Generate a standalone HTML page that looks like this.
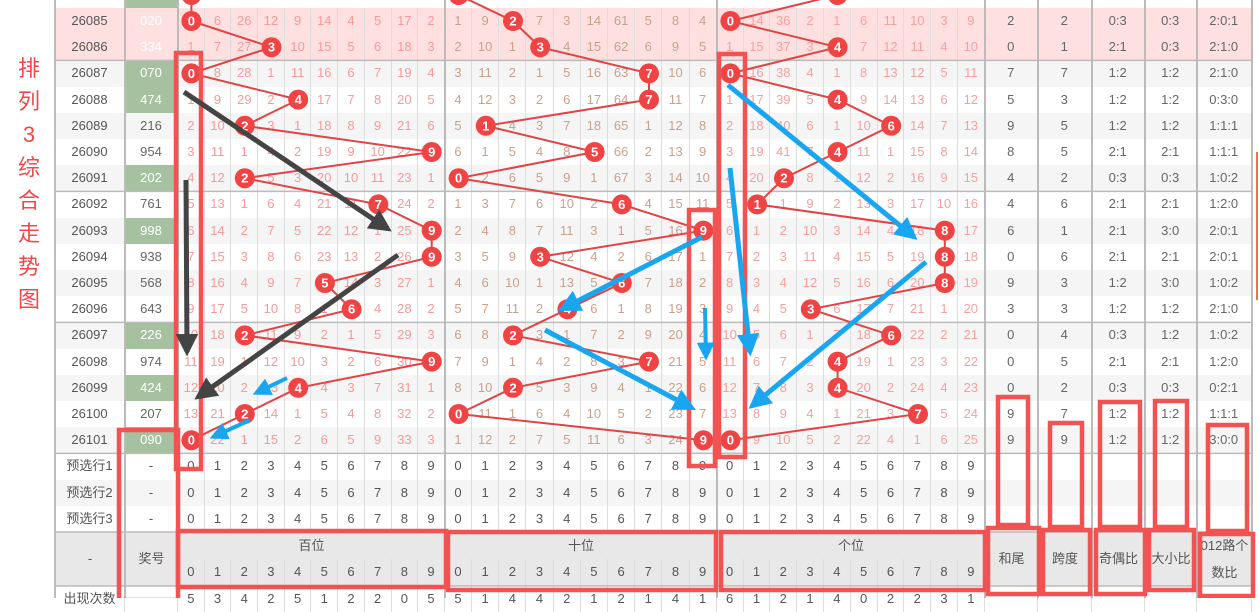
<!DOCTYPE html>
<html><head><meta charset="utf-8">
<style>
*{margin:0;padding:0;box-sizing:border-box}
body{width:1259px;height:598px;overflow:hidden;background:#fff;font-family:"Liberation Sans","Noto Sans CJK SC",sans-serif;position:relative}
.r{position:absolute;left:55px;height:26.2px;display:grid;grid-template-columns:70px 53px repeat(10,26.7px) repeat(10,27.2px) repeat(10,26.8px) 53px 54px 53px 52px 55px;font-size:13px;line-height:26.2px;text-align:center;color:#666}
.r span{border-right:1px solid #ddd;overflow:hidden;white-space:nowrap}
.r span:nth-child(1){color:#555}
.r span:nth-child(n+3):nth-child(-n+12){color:#f39a9a}
.r span:nth-child(n+13):nth-child(-n+22){color:#c9a08e}
.r span:nth-child(n+23):nth-child(-n+32){color:#f5a0a0}
.g{background:#f5f5f5}.w{background:#fff}.p{background:#ffe0e0}
.p span:nth-child(2){color:#fff}
.r span.n{background:#a6c19f;color:#fff}
.pre span:nth-child(n+2){color:#555!important}
.hr span:nth-child(-n+2){border-right:none}
.hd{position:absolute;background:#e8e8e8;color:#555;font-size:13px;text-align:center}
.vt{position:absolute;left:16px;top:52px;width:26px;color:#f04848;font-size:22px;line-height:33px;text-align:center}
</style></head><body>
<div class="vt">排<br>列<br>3<br>综<br>合<br>走<br>势<br>图</div>

<div class="r w" style="top:-18.2px"><span></span><span class="n"></span></div>
<div class="r p" style="top:8px"><span>26085</span><span>020</span><span></span><span>6</span><span>26</span><span>12</span><span>9</span><span>14</span><span>4</span><span>5</span><span>17</span><span>2</span><span>1</span><span>9</span><span></span><span>7</span><span>3</span><span>14</span><span>61</span><span>5</span><span>8</span><span>4</span><span></span><span>14</span><span>36</span><span>2</span><span>1</span><span>6</span><span>11</span><span>10</span><span>3</span><span>9</span><span>2</span><span>2</span><span>0:3</span><span>0:3</span><span>2:0:1</span></div>
<div class="r p" style="top:34.2px"><span>26086</span><span>334</span><span>1</span><span>7</span><span>27</span><span></span><span>10</span><span>15</span><span>5</span><span>6</span><span>18</span><span>3</span><span>2</span><span>10</span><span>1</span><span></span><span>4</span><span>15</span><span>62</span><span>6</span><span>9</span><span>5</span><span>1</span><span>15</span><span>37</span><span>3</span><span></span><span>7</span><span>12</span><span>11</span><span>4</span><span>10</span><span>0</span><span>1</span><span>2:1</span><span>0:3</span><span>2:1:0</span></div>
<div class="r g" style="top:60.4px"><span>26087</span><span class="n">070</span><span></span><span>8</span><span>28</span><span>1</span><span>11</span><span>16</span><span>6</span><span>7</span><span>19</span><span>4</span><span>3</span><span>11</span><span>2</span><span>1</span><span>5</span><span>16</span><span>63</span><span></span><span>10</span><span>6</span><span></span><span>16</span><span>38</span><span>4</span><span>1</span><span>8</span><span>13</span><span>12</span><span>5</span><span>11</span><span>7</span><span>7</span><span>1:2</span><span>1:2</span><span>2:1:0</span></div>
<div class="r w" style="top:86.6px"><span>26088</span><span class="n">474</span><span>1</span><span>9</span><span>29</span><span>2</span><span></span><span>17</span><span>7</span><span>8</span><span>20</span><span>5</span><span>4</span><span>12</span><span>3</span><span>2</span><span>6</span><span>17</span><span>64</span><span></span><span>11</span><span>7</span><span>1</span><span>17</span><span>39</span><span>5</span><span></span><span>9</span><span>14</span><span>13</span><span>6</span><span>12</span><span>5</span><span>3</span><span>1:2</span><span>1:2</span><span>0:3:0</span></div>
<div class="r g" style="top:112.8px"><span>26089</span><span>216</span><span>2</span><span>10</span><span></span><span>3</span><span>1</span><span>18</span><span>8</span><span>9</span><span>21</span><span>6</span><span>5</span><span></span><span>4</span><span>3</span><span>7</span><span>18</span><span>65</span><span>1</span><span>12</span><span>8</span><span>2</span><span>18</span><span>40</span><span>6</span><span>1</span><span>10</span><span></span><span>14</span><span>7</span><span>13</span><span>9</span><span>5</span><span>1:2</span><span>1:2</span><span>1:1:1</span></div>
<div class="r w" style="top:139px"><span>26090</span><span>954</span><span>3</span><span>11</span><span>1</span><span>4</span><span>2</span><span>19</span><span>9</span><span>10</span><span>22</span><span></span><span>6</span><span>1</span><span>5</span><span>4</span><span>8</span><span></span><span>66</span><span>2</span><span>13</span><span>9</span><span>3</span><span>19</span><span>41</span><span>7</span><span></span><span>11</span><span>1</span><span>15</span><span>8</span><span>14</span><span>8</span><span>5</span><span>2:1</span><span>2:1</span><span>1:1:1</span></div>
<div class="r g" style="top:165.2px"><span>26091</span><span class="n">202</span><span>4</span><span>12</span><span></span><span>5</span><span>3</span><span>20</span><span>10</span><span>11</span><span>23</span><span>1</span><span></span><span>2</span><span>6</span><span>5</span><span>9</span><span>1</span><span>67</span><span>3</span><span>14</span><span>10</span><span>4</span><span>20</span><span></span><span>8</span><span>1</span><span>12</span><span>2</span><span>16</span><span>9</span><span>15</span><span>4</span><span>2</span><span>0:3</span><span>0:3</span><span>1:0:2</span></div>
<div class="r w" style="top:191.4px"><span>26092</span><span>761</span><span>5</span><span>13</span><span>1</span><span>6</span><span>4</span><span>21</span><span>11</span><span></span><span>24</span><span>2</span><span>1</span><span>3</span><span>7</span><span>6</span><span>10</span><span>2</span><span></span><span>4</span><span>15</span><span>11</span><span>5</span><span></span><span>1</span><span>9</span><span>2</span><span>13</span><span>3</span><span>17</span><span>10</span><span>16</span><span>4</span><span>6</span><span>2:1</span><span>2:1</span><span>1:2:0</span></div>
<div class="r g" style="top:217.6px"><span>26093</span><span class="n">998</span><span>6</span><span>14</span><span>2</span><span>7</span><span>5</span><span>22</span><span>12</span><span>1</span><span>25</span><span></span><span>2</span><span>4</span><span>8</span><span>7</span><span>11</span><span>3</span><span>1</span><span>5</span><span>16</span><span></span><span>6</span><span>1</span><span>2</span><span>10</span><span>3</span><span>14</span><span>4</span><span>18</span><span></span><span>17</span><span>6</span><span>1</span><span>2:1</span><span>3:0</span><span>2:0:1</span></div>
<div class="r w" style="top:243.8px"><span>26094</span><span>938</span><span>7</span><span>15</span><span>3</span><span>8</span><span>6</span><span>23</span><span>13</span><span>2</span><span>26</span><span></span><span>3</span><span>5</span><span>9</span><span></span><span>12</span><span>4</span><span>2</span><span>6</span><span>17</span><span>1</span><span>7</span><span>2</span><span>3</span><span>11</span><span>4</span><span>15</span><span>5</span><span>19</span><span></span><span>18</span><span>0</span><span>6</span><span>2:1</span><span>2:1</span><span>2:0:1</span></div>
<div class="r g" style="top:270px"><span>26095</span><span>568</span><span>8</span><span>16</span><span>4</span><span>9</span><span>7</span><span></span><span>14</span><span>3</span><span>27</span><span>1</span><span>4</span><span>6</span><span>10</span><span>1</span><span>13</span><span>5</span><span></span><span>7</span><span>18</span><span>2</span><span>8</span><span>3</span><span>4</span><span>12</span><span>5</span><span>16</span><span>6</span><span>20</span><span></span><span>19</span><span>9</span><span>3</span><span>1:2</span><span>3:0</span><span>1:0:2</span></div>
<div class="r w" style="top:296.2px"><span>26096</span><span>643</span><span>9</span><span>17</span><span>5</span><span>10</span><span>8</span><span>1</span><span></span><span>4</span><span>28</span><span>2</span><span>5</span><span>7</span><span>11</span><span>2</span><span></span><span>6</span><span>1</span><span>8</span><span>19</span><span>3</span><span>9</span><span>4</span><span>5</span><span></span><span>6</span><span>17</span><span>7</span><span>21</span><span>1</span><span>20</span><span>3</span><span>3</span><span>1:2</span><span>1:2</span><span>2:1:0</span></div>
<div class="r g" style="top:322.4px"><span>26097</span><span class="n">226</span><span>10</span><span>18</span><span></span><span>11</span><span>9</span><span>2</span><span>1</span><span>5</span><span>29</span><span>3</span><span>6</span><span>8</span><span></span><span>3</span><span>1</span><span>7</span><span>2</span><span>9</span><span>20</span><span>4</span><span>10</span><span>5</span><span>6</span><span>1</span><span>7</span><span>18</span><span></span><span>22</span><span>2</span><span>21</span><span>0</span><span>4</span><span>0:3</span><span>1:2</span><span>1:0:2</span></div>
<div class="r w" style="top:348.6px"><span>26098</span><span>974</span><span>11</span><span>19</span><span>1</span><span>12</span><span>10</span><span>3</span><span>2</span><span>6</span><span>30</span><span></span><span>7</span><span>9</span><span>1</span><span>4</span><span>2</span><span>8</span><span>3</span><span></span><span>21</span><span>5</span><span>11</span><span>6</span><span>7</span><span>2</span><span></span><span>19</span><span>1</span><span>23</span><span>3</span><span>22</span><span>0</span><span>5</span><span>2:1</span><span>2:1</span><span>1:2:0</span></div>
<div class="r g" style="top:374.8px"><span>26099</span><span class="n">424</span><span>12</span><span>20</span><span>2</span><span>13</span><span></span><span>4</span><span>3</span><span>7</span><span>31</span><span>1</span><span>8</span><span>10</span><span></span><span>5</span><span>3</span><span>9</span><span>4</span><span>1</span><span>22</span><span>6</span><span>12</span><span>7</span><span>8</span><span>3</span><span></span><span>20</span><span>2</span><span>24</span><span>4</span><span>23</span><span>0</span><span>2</span><span>0:3</span><span>0:3</span><span>0:2:1</span></div>
<div class="r w" style="top:401px"><span>26100</span><span>207</span><span>13</span><span>21</span><span></span><span>14</span><span>1</span><span>5</span><span>4</span><span>8</span><span>32</span><span>2</span><span></span><span>11</span><span>1</span><span>6</span><span>4</span><span>10</span><span>5</span><span>2</span><span>23</span><span>7</span><span>13</span><span>8</span><span>9</span><span>4</span><span>1</span><span>21</span><span>3</span><span></span><span>5</span><span>24</span><span>9</span><span>7</span><span>1:2</span><span>1:2</span><span>1:1:1</span></div>
<div class="r g" style="top:427.2px"><span>26101</span><span class="n">090</span><span></span><span>22</span><span>1</span><span>15</span><span>2</span><span>6</span><span>5</span><span>9</span><span>33</span><span>3</span><span>1</span><span>12</span><span>2</span><span>7</span><span>5</span><span>11</span><span>6</span><span>3</span><span>24</span><span></span><span></span><span>9</span><span>10</span><span>5</span><span>2</span><span>22</span><span>4</span><span>1</span><span>6</span><span>25</span><span>9</span><span>9</span><span>1:2</span><span>1:2</span><span>3:0:0</span></div>
<div class="r w pre" style="top:453.4px"><span>预选行1</span><span>-</span><span>0</span><span>1</span><span>2</span><span>3</span><span>4</span><span>5</span><span>6</span><span>7</span><span>8</span><span>9</span><span>0</span><span>1</span><span>2</span><span>3</span><span>4</span><span>5</span><span>6</span><span>7</span><span>8</span><span>9</span><span>0</span><span>1</span><span>2</span><span>3</span><span>4</span><span>5</span><span>6</span><span>7</span><span>8</span><span>9</span><span></span><span></span><span></span><span></span><span></span></div>
<div class="r g pre" style="top:479.6px"><span>预选行2</span><span>-</span><span>0</span><span>1</span><span>2</span><span>3</span><span>4</span><span>5</span><span>6</span><span>7</span><span>8</span><span>9</span><span>0</span><span>1</span><span>2</span><span>3</span><span>4</span><span>5</span><span>6</span><span>7</span><span>8</span><span>9</span><span>0</span><span>1</span><span>2</span><span>3</span><span>4</span><span>5</span><span>6</span><span>7</span><span>8</span><span>9</span><span></span><span></span><span></span><span></span><span></span></div>
<div class="r w pre" style="top:505.8px"><span>预选行3</span><span>-</span><span>0</span><span>1</span><span>2</span><span>3</span><span>4</span><span>5</span><span>6</span><span>7</span><span>8</span><span>9</span><span>0</span><span>1</span><span>2</span><span>3</span><span>4</span><span>5</span><span>6</span><span>7</span><span>8</span><span>9</span><span>0</span><span>1</span><span>2</span><span>3</span><span>4</span><span>5</span><span>6</span><span>7</span><span>8</span><span>9</span><span></span><span></span><span></span><span></span><span></span></div>
<div class="r w pre" style="top:586px"><span>出现次数</span><span></span><span>5</span><span>3</span><span>4</span><span>2</span><span>5</span><span>1</span><span>2</span><span>2</span><span>0</span><span>5</span><span>5</span><span>1</span><span>4</span><span>4</span><span>2</span><span>1</span><span>2</span><span>1</span><span>4</span><span>1</span><span>6</span><span>1</span><span>2</span><span>1</span><span>4</span><span>0</span><span>2</span><span>2</span><span>3</span><span>1</span><span></span><span></span><span></span><span></span><span></span></div>

<!-- header -->
<div class="hd" style="left:55px;top:532px;width:1197px;height:54px"></div>
<div class="r pre hr" style="top:559px"><span></span><span></span><span>0</span><span>1</span><span>2</span><span>3</span><span>4</span><span>5</span><span>6</span><span>7</span><span>8</span><span>9</span><span>0</span><span>1</span><span>2</span><span>3</span><span>4</span><span>5</span><span>6</span><span>7</span><span>8</span><span>9</span><span>0</span><span>1</span><span>2</span><span>3</span><span>4</span><span>5</span><span>6</span><span>7</span><span>8</span><span>9</span><span></span><span></span><span></span><span></span><span></span></div>
<div class="hd" style="left:55px;top:532px;width:70px;height:54px;line-height:54px">-</div>
<div class="hd" style="left:125px;top:532px;width:53px;height:54px;line-height:54px">奖号</div>
<div class="hd" style="left:178px;top:532px;width:267px;height:27px;line-height:27px">百位</div>
<div class="hd" style="left:445px;top:532px;width:272px;height:27px;line-height:27px">十位</div>
<div class="hd" style="left:717px;top:532px;width:268px;height:27px;line-height:27px">个位</div>
<div class="hd" style="left:985px;top:532px;width:53px;height:54px;line-height:54px">和尾</div>
<div class="hd" style="left:1038px;top:532px;width:54px;height:54px;line-height:54px">跨度</div>
<div class="hd" style="left:1092px;top:532px;width:53px;height:54px;line-height:54px">奇偶比</div>
<div class="hd" style="left:1145px;top:532px;width:52px;height:54px;line-height:54px">大小比</div>
<div class="hd" style="left:1197px;top:532px;width:55px;height:54px;line-height:27px">012路个<br>数比</div>

<svg style="position:absolute;left:0;top:0" width="1259" height="598">
<defs>
<marker id="ad" viewBox="0 0 10 10" refX="8" refY="5" markerWidth="4.5" markerHeight="4.5" orient="auto"><path d="M0,0L10,5L0,10z" fill="#444"/></marker>
<marker id="ab" viewBox="0 0 10 10" refX="8" refY="5" markerWidth="4.5" markerHeight="4.5" orient="auto"><path d="M0,0L10,5L0,10z" fill="#19a6f0"/></marker>
</defs>
<g stroke="#bbb" stroke-width="2">
<line x1="55" y1="0" x2="55" y2="598"/><line x1="125" y1="0" x2="125" y2="598"/><line x1="178" y1="0" x2="178" y2="598"/>
<line x1="445" y1="0" x2="445" y2="598"/><line x1="717" y1="0" x2="717" y2="598"/><line x1="985" y1="0" x2="985" y2="598"/>
<line x1="1038" y1="0" x2="1038" y2="598"/><line x1="1092" y1="0" x2="1092" y2="598"/><line x1="1145" y1="0" x2="1145" y2="598"/>
<line x1="1197" y1="0" x2="1197" y2="598"/><line x1="1252" y1="0" x2="1252" y2="598"/>
</g>
<g stroke="#bbb" stroke-width="1.5">
<line x1="55" y1="60.4" x2="1252" y2="60.4"/><line x1="55" y1="191.4" x2="1252" y2="191.4"/><line x1="55" y1="322.4" x2="1252" y2="322.4"/><line x1="55" y1="453.4" x2="1252" y2="453.4"/><line x1="55" y1="532" x2="1252" y2="532"/><line x1="55" y1="586" x2="1252" y2="586"/>
</g>
<line x1="1257" y1="152" x2="1257" y2="300" stroke="#f07050" stroke-width="2"/>
<g fill="none" stroke="#e04444" stroke-width="2">
<polyline points="191.4,-5 191.4,21 271.5,47.2 191.4,73.4 298.2,99.6 244.8,125.8 431.7,152 244.8,178.2 378.3,204.4 431.7,230.6 431.7,256.8 324.9,283 351.6,309.2 244.8,335.4 431.7,361.6 298.2,387.8 244.8,414 191.4,440.2"/>
<polyline points="458.6,-5 513,21 540.2,47.2 649,73.4 649,99.6 485.8,125.8 594.6,152 458.6,178.2 621.8,204.4 703.4,230.6 540.2,256.8 621.8,283 567.4,309.2 513,335.4 649,361.6 513,387.8 458.6,414 703.4,440.2"/>
<polyline points="837.6,-5 730.4,21 837.6,47.2 730.4,73.4 837.6,99.6 891.2,125.8 837.6,152 784,178.2 757.2,204.4 944.8,230.6 944.8,256.8 944.8,283 810.8,309.2 891.2,335.4 837.6,361.6 837.6,387.8 918,414 730.4,440.2"/>
</g>
<g fill="#f04444">
<circle cx="191.4" cy="-5" r="10"/><circle cx="458.6" cy="-5" r="10"/><circle cx="837.6" cy="-5" r="10"/>
<circle cx="191.4" cy="21" r="10"/><circle cx="271.5" cy="47.2" r="10"/><circle cx="191.4" cy="73.4" r="10"/><circle cx="298.2" cy="99.6" r="10"/><circle cx="244.8" cy="125.8" r="10"/><circle cx="431.7" cy="152" r="10"/><circle cx="244.8" cy="178.2" r="10"/><circle cx="378.3" cy="204.4" r="10"/><circle cx="431.7" cy="230.6" r="10"/><circle cx="431.7" cy="256.8" r="10"/><circle cx="324.9" cy="283" r="10"/><circle cx="351.6" cy="309.2" r="10"/><circle cx="244.8" cy="335.4" r="10"/><circle cx="431.7" cy="361.6" r="10"/><circle cx="298.2" cy="387.8" r="10"/><circle cx="244.8" cy="414" r="10"/><circle cx="191.4" cy="440.2" r="10"/>
<circle cx="513" cy="21" r="10"/><circle cx="540.2" cy="47.2" r="10"/><circle cx="649" cy="73.4" r="10"/><circle cx="649" cy="99.6" r="10"/><circle cx="485.8" cy="125.8" r="10"/><circle cx="594.6" cy="152" r="10"/><circle cx="458.6" cy="178.2" r="10"/><circle cx="621.8" cy="204.4" r="10"/><circle cx="703.4" cy="230.6" r="10"/><circle cx="540.2" cy="256.8" r="10"/><circle cx="621.8" cy="283" r="10"/><circle cx="567.4" cy="309.2" r="10"/><circle cx="513" cy="335.4" r="10"/><circle cx="649" cy="361.6" r="10"/><circle cx="513" cy="387.8" r="10"/><circle cx="458.6" cy="414" r="10"/><circle cx="703.4" cy="440.2" r="10"/>
<circle cx="730.4" cy="21" r="10"/><circle cx="837.6" cy="47.2" r="10"/><circle cx="730.4" cy="73.4" r="10"/><circle cx="837.6" cy="99.6" r="10"/><circle cx="891.2" cy="125.8" r="10"/><circle cx="837.6" cy="152" r="10"/><circle cx="784" cy="178.2" r="10"/><circle cx="757.2" cy="204.4" r="10"/><circle cx="944.8" cy="230.6" r="10"/><circle cx="944.8" cy="256.8" r="10"/><circle cx="944.8" cy="283" r="10"/><circle cx="810.8" cy="309.2" r="10"/><circle cx="891.2" cy="335.4" r="10"/><circle cx="837.6" cy="361.6" r="10"/><circle cx="837.6" cy="387.8" r="10"/><circle cx="918" cy="414" r="10"/><circle cx="730.4" cy="440.2" r="10"/>
</g>
<g fill="#fff" font-family="Liberation Sans,sans-serif" font-size="13" font-weight="bold" text-anchor="middle">
<text x="191.4" y="25.5">0</text><text x="271.5" y="51.7">3</text><text x="191.4" y="77.9">0</text><text x="298.2" y="104.1">4</text><text x="244.8" y="130.3">2</text><text x="431.7" y="156.5">9</text><text x="244.8" y="182.7">2</text><text x="378.3" y="208.9">7</text><text x="431.7" y="235.1">9</text><text x="431.7" y="261.3">9</text><text x="324.9" y="287.5">5</text><text x="351.6" y="313.7">6</text><text x="244.8" y="339.9">2</text><text x="431.7" y="366.1">9</text><text x="298.2" y="392.3">4</text><text x="244.8" y="418.5">2</text><text x="191.4" y="444.7">0</text>
<text x="513" y="25.5">2</text><text x="540.2" y="51.7">3</text><text x="649" y="77.9">7</text><text x="649" y="104.1">7</text><text x="485.8" y="130.3">1</text><text x="594.6" y="156.5">5</text><text x="458.6" y="182.7">0</text><text x="621.8" y="208.9">6</text><text x="703.4" y="235.1">9</text><text x="540.2" y="261.3">3</text><text x="621.8" y="287.5">6</text><text x="567.4" y="313.7">4</text><text x="513" y="339.9">2</text><text x="649" y="366.1">7</text><text x="513" y="392.3">2</text><text x="458.6" y="418.5">0</text><text x="703.4" y="444.7">9</text>
<text x="730.4" y="25.5">0</text><text x="837.6" y="51.7">4</text><text x="730.4" y="77.9">0</text><text x="837.6" y="104.1">4</text><text x="891.2" y="130.3">6</text><text x="837.6" y="156.5">4</text><text x="784" y="182.7">2</text><text x="757.2" y="208.9">1</text><text x="944.8" y="235.1">8</text><text x="944.8" y="261.3">8</text><text x="944.8" y="287.5">8</text><text x="810.8" y="313.7">3</text><text x="891.2" y="339.9">6</text><text x="837.6" y="366.1">4</text><text x="837.6" y="392.3">4</text><text x="918" y="418.5">7</text><text x="730.4" y="444.7">0</text>
</g>
<g fill="none" stroke="#f25252" stroke-width="4.5">
<rect x="176" y="53" width="25" height="416"/>
<rect x="119" y="430" width="59" height="170"/>
<rect x="178" y="531" width="268" height="56"/>
<rect x="689" y="210" width="26" height="256"/>
<rect x="719" y="54" width="26" height="403"/>
<rect x="448" y="532" width="268" height="58"/>
<rect x="721" y="532" width="264" height="58"/>
<rect x="998" y="397" width="30" height="128"/>
<rect x="988" y="528" width="51" height="66"/>
<rect x="1050" y="423" width="32" height="104"/>
<rect x="1043" y="530" width="47" height="64"/>
<rect x="1100" y="402" width="40" height="125"/>
<rect x="1096" y="530" width="49" height="64"/>
<rect x="1155" y="401" width="32" height="126"/>
<rect x="1149" y="530" width="45" height="60"/>
<rect x="1208" y="425" width="39" height="106"/>
<rect x="1200" y="534" width="53" height="62"/>
</g>
<g stroke="#444" fill="none">
<line x1="184" y1="92" x2="388" y2="229" stroke-width="5" marker-end="url(#ad)"/>
<line x1="186" y1="180" x2="187" y2="352" stroke-width="5" marker-end="url(#ad)"/>
<line x1="398" y1="255" x2="198" y2="397" stroke-width="5" marker-end="url(#ad)"/>
</g>
<g stroke="#19a6f0" fill="none">
<line x1="287" y1="378" x2="256" y2="393" stroke-width="4" marker-end="url(#ab)"/>
<line x1="250" y1="420" x2="213" y2="437" stroke-width="4" marker-end="url(#ab)"/>
<line x1="702" y1="237" x2="562" y2="309" stroke-width="5" marker-end="url(#ab)"/>
<line x1="545" y1="330" x2="692" y2="408" stroke-width="5" marker-end="url(#ab)"/>
<line x1="705" y1="308" x2="706" y2="357" stroke-width="4" marker-end="url(#ab)"/>
<line x1="728" y1="85" x2="914" y2="237" stroke-width="5" marker-end="url(#ab)"/>
<line x1="730" y1="168" x2="750" y2="352" stroke-width="5" marker-end="url(#ab)"/>
<line x1="926" y1="262" x2="752" y2="406" stroke-width="5" marker-end="url(#ab)"/>
</g>
</svg>
</body></html>
